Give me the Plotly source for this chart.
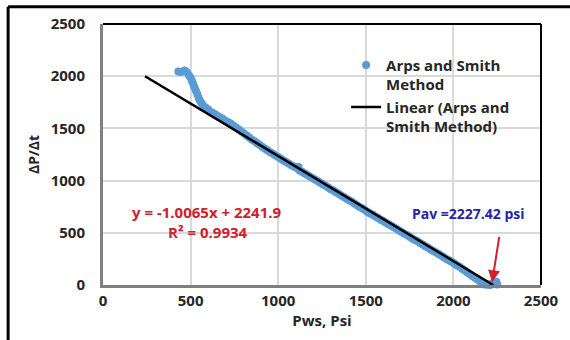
import plotly.graph_objects as go

pws = [430, 445, 465, 478, 490, 500, 508, 515, 522, 530, 538, 545, 552, 560, 570, 585, 600,
       610, 625, 640, 655, 670, 685, 700, 715, 730, 745, 760, 775, 790, 805, 820, 835, 850, 865,
       880, 895, 910, 925, 940, 955, 970, 985, 1000, 1015, 1030, 1045, 1060, 1075, 1090, 1105,
       1116, 1120, 1135, 1150, 1165, 1180, 1195, 1210, 1225, 1240, 1255, 1270, 1285, 1300, 1315,
       1330, 1345, 1360, 1375, 1390, 1405, 1420, 1435, 1450, 1465, 1480, 1495, 1510, 1525, 1540,
       1555, 1570, 1585, 1600, 1615, 1630, 1645, 1660, 1675, 1690, 1705, 1720, 1735, 1750, 1765,
       1780, 1795, 1810, 1825, 1840, 1855, 1870, 1885, 1900, 1915, 1930, 1945, 1960, 1975, 1990,
       2005, 2020, 2035, 2050, 2065, 2080, 2095, 2110, 2125, 2140, 2155, 2170, 2185, 2200, 2215,
       2230, 2245, 2250, 2160, 2175, 2195, 2210, 2225, 2240]
dpdt = [2046, 2040, 2055, 2040, 2010, 1985, 1955, 1925, 1895, 1860, 1830, 1795, 1770, 1745, 1725, 1700, 1680,
        1662, 1650, 1636, 1618, 1604, 1590, 1572, 1560, 1545, 1526, 1508, 1490, 1470, 1450, 1432, 1412, 1392, 1376,
        1358, 1340, 1322, 1305, 1288, 1272, 1256, 1240, 1226, 1210, 1192, 1178, 1163, 1148, 1134, 1120,
        1130, 1100, 1085, 1070, 1056, 1040, 1026, 1010, 995, 980, 964, 950, 935, 918, 905,
        888, 873, 858, 842, 826, 812, 797, 780, 765, 748, 735, 718, 700, 686, 672,
        656, 642, 626, 612, 597, 582, 568, 552, 538, 522, 508, 492, 478, 462, 446,
        432, 418, 402, 388, 372, 356, 340, 326, 312, 296, 282, 266, 250, 236, 222,
        206, 190, 174, 156, 138, 120, 102, 84, 66, 50, 34, 20, 10, 4, 8,
        25, 30, 5, 12, 4, 2, 0, 15, 10]

trend_x = [240, 2227.4]
trend_y = [2000, 0]

FONT = "Open Sans"
TXT = "#262626"

fig = go.Figure()
fig.add_trace(go.Scatter(
    x=pws, y=dpdt, mode="markers", name="Arps and Smith<br>Method",
    marker=dict(color="#5B9BD5", size=8), cliponaxis=False))
fig.add_trace(go.Scatter(
    x=trend_x, y=trend_y, mode="lines", name="Linear (Arps and<br>Smith Method)",
    line=dict(color="black", width=2.5)))

fig.update_layout(
    width=570, height=340,
    margin=dict(l=103, r=29, t=24, b=55),
    paper_bgcolor="white", plot_bgcolor="white",
    font=dict(family=FONT, size=13, color=TXT),
    showlegend=True,
    legend=dict(x=0.555, y=0.905, xanchor="left", yanchor="top", valign="top",
                bgcolor="rgba(0,0,0,0)", font=dict(family=FONT, size=15, color=TXT, weight="bold"),
                itemwidth=30),
    xaxis=dict(range=[0, 2500], dtick=500, tick0=0, showgrid=True, gridcolor="#D9D9D9", gridwidth=1.5,
               showline=True, linecolor="#808080", linewidth=3, zeroline=False, ticks="",
               tickfont=dict(family=FONT, size=15, color=TXT, weight="bold"),
               title=dict(text="<b>Pws, Psi</b>", font=dict(family=FONT, size=15, color=TXT), standoff=2)),
    yaxis=dict(range=[0, 2500], dtick=500, tick0=0, showgrid=True, gridcolor="#D9D9D9", gridwidth=1.5,
               showline=True, linecolor="#808080", linewidth=3, zeroline=False, ticks="",
               ticklabelstandoff=12,
               tickfont=dict(family=FONT, size=15, color=TXT, weight="bold"),
               title=dict(text="<b>ΔP/Δt</b>", font=dict(family=FONT, size=14, color=TXT), standoff=8)),
)

# plot-area border (top and right) and outer chart border
fig.add_shape(type="line", xref="paper", yref="paper", x0=0, x1=1, y0=1, y1=1,
              line=dict(color="black", width=2))
fig.add_shape(type="line", xref="paper", yref="paper", x0=1, x1=1, y0=0, y1=1,
              line=dict(color="black", width=2))
fig.add_shape(type="line", xref="paper", yref="paper", x0=-0.2166, x1=-0.2166, y0=-0.3, y1=1.066,
              line=dict(color="black", width=3))
fig.add_shape(type="line", xref="paper", yref="paper", x0=-0.2166, x1=1.2, y0=1.066, y1=1.066,
              line=dict(color="black", width=3))

fig.add_annotation(x=595, y=700, xref="x", yref="y", showarrow=False,
                   text="<b>y = -1.0065x + 2241.9</b>", font=dict(family=FONT, size=15, color="#D0202E"))
fig.add_annotation(x=600, y=510, xref="x", yref="y", showarrow=False,
                   text="<b>R² = 0.9934</b>", font=dict(family=FONT, size=15, color="#D0202E"))
fig.add_annotation(x=2085, y=685, xref="x", yref="y", showarrow=False,
                   text="<b>Pav =2227.42 psi</b>", font=dict(family=FONT, size=14, color="#2424A8"))
fig.add_annotation(x=2221, y=27, xref="x", yref="y", ax=2263, ay=476, axref="x", ayref="y",
                   text="", showarrow=True, arrowhead=2, arrowsize=1.2, arrowwidth=2, arrowcolor="#D0202E")

fig.write_html("out.html")
